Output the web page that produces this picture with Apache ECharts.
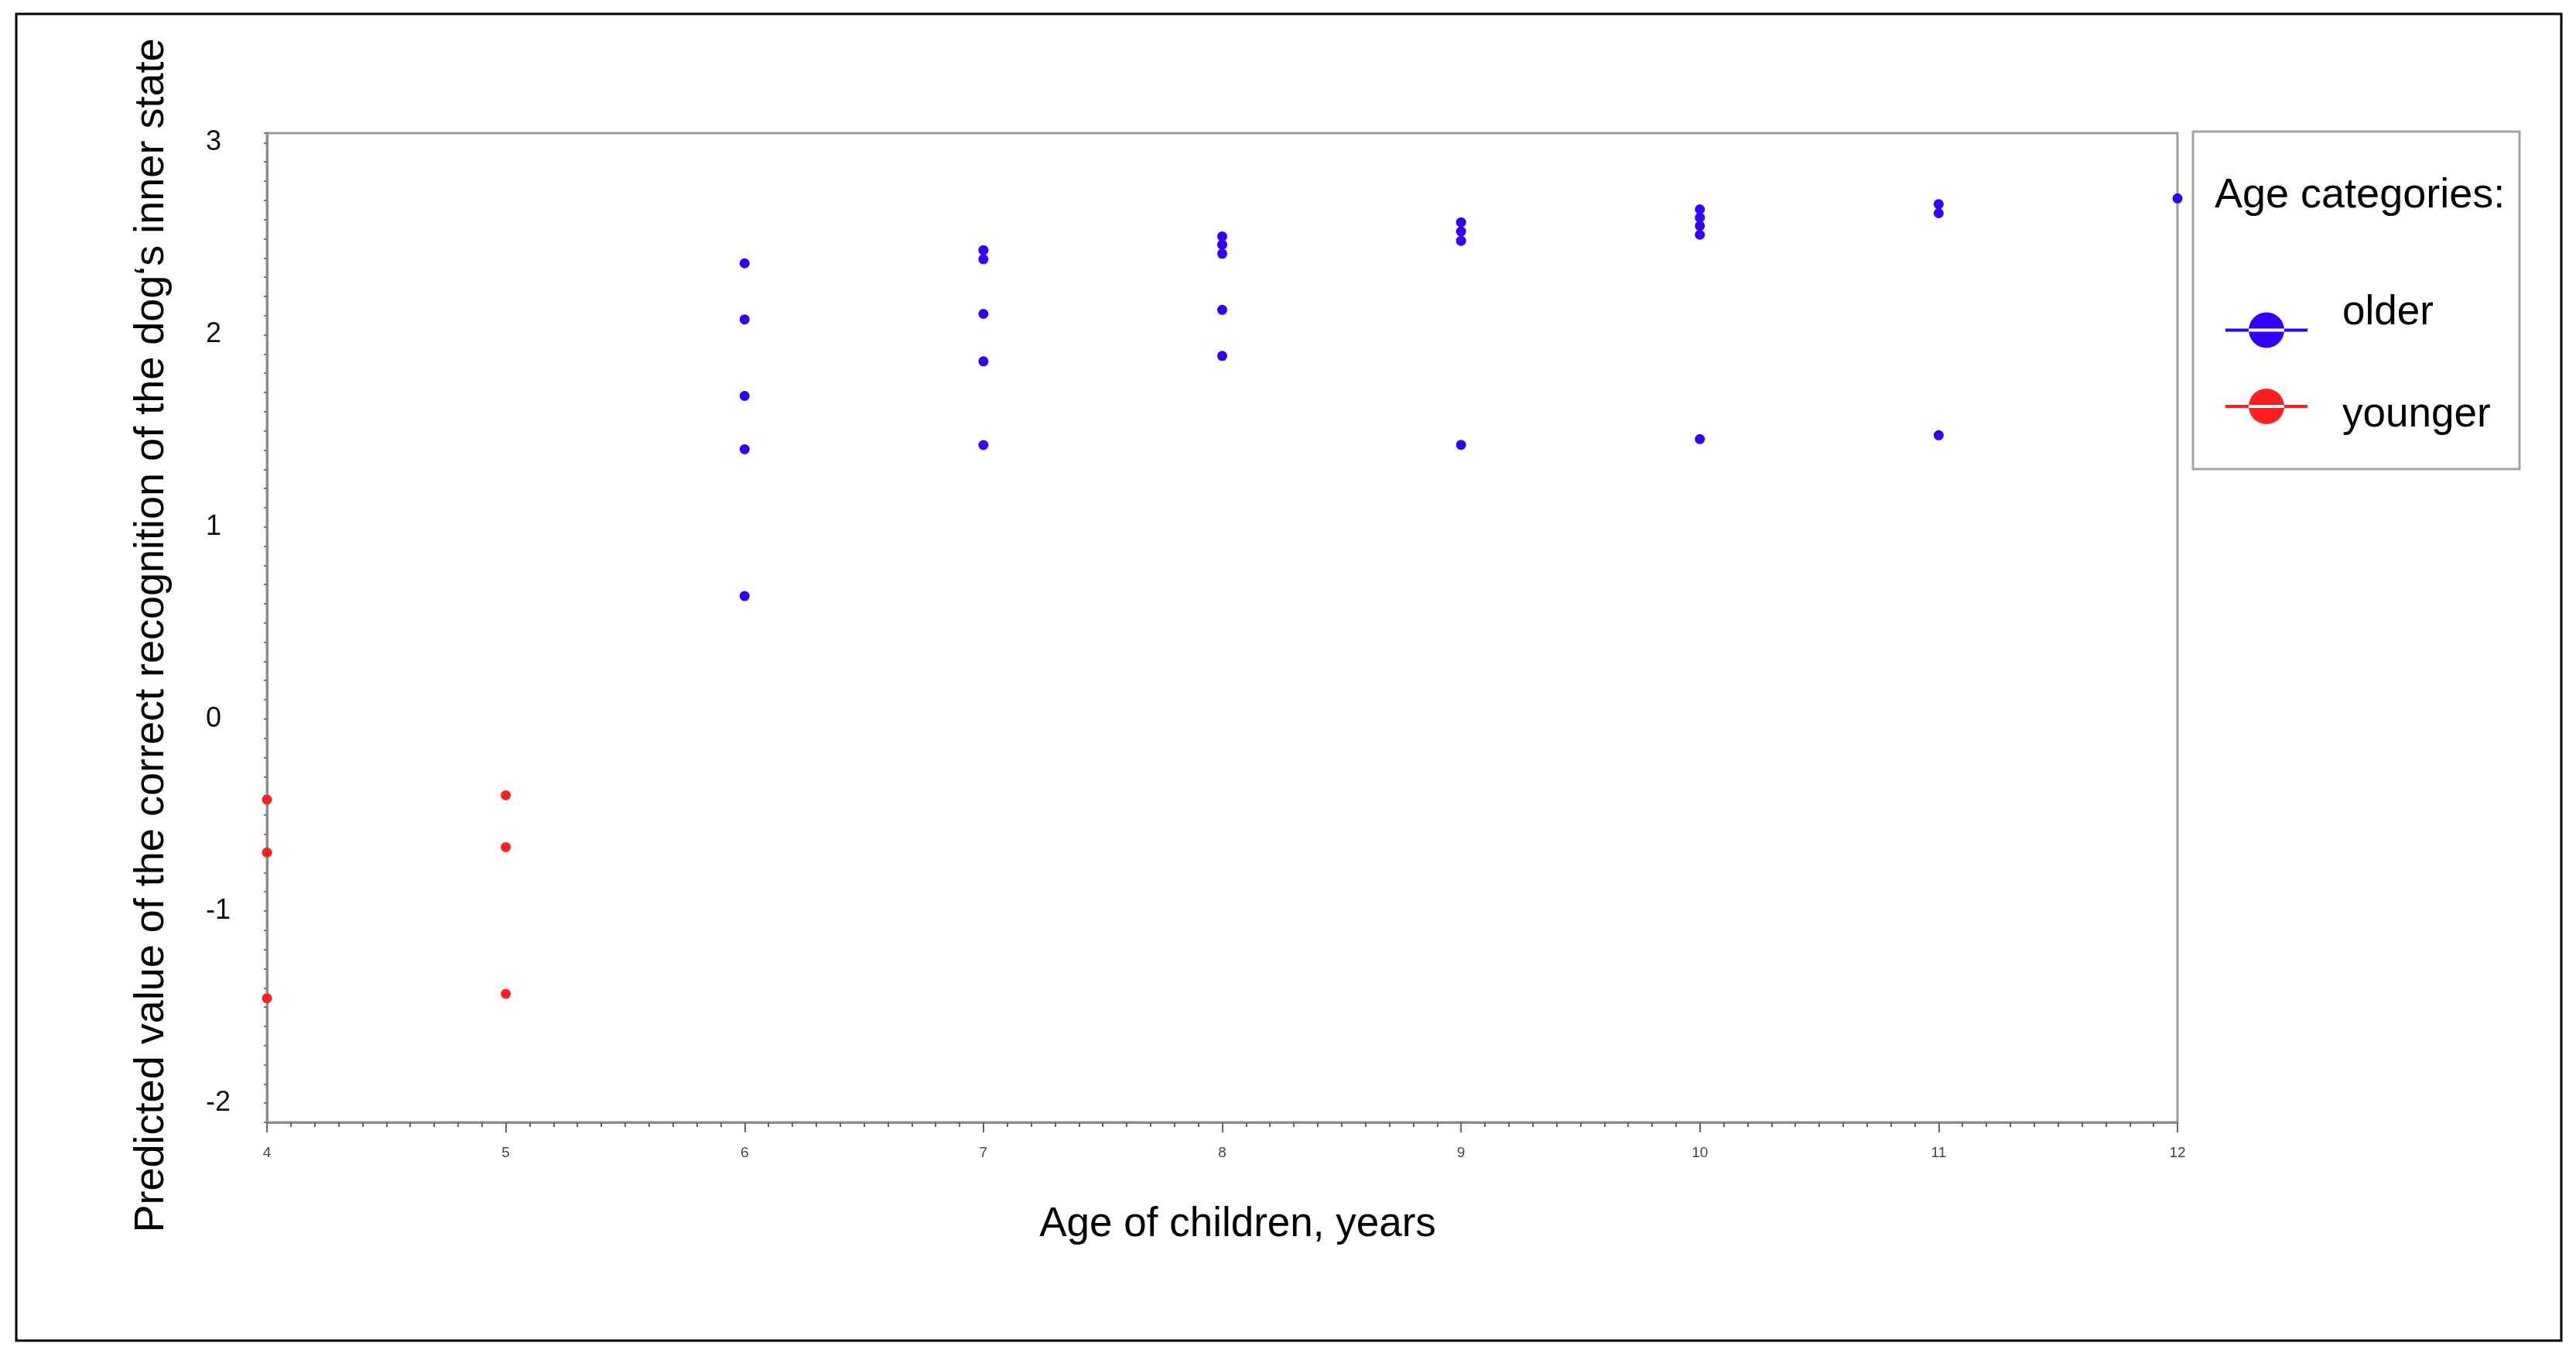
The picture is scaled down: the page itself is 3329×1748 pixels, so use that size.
<!DOCTYPE html>
<html>
<head>
<meta charset="utf-8">
<script src="https://cdn.jsdelivr.net/npm/echarts/dist/echarts.min.js"></script>
<style>
html,body{margin:0;padding:0;background:#fff;}
#c{width:3329px;height:1748px;}
</style>
</head>
<body>
<div id="c"></div>
<script>
// ---- data ----
const seriesNames = ['older', 'younger'];
const olderAges   = [6, 6, 6, 6, 6,  7, 7, 7, 7, 7,  8, 8, 8, 8, 8,  9, 9, 9, 9,  10, 10, 10, 10, 10,  11, 11, 11,  12];
const olderValues = [2.372, 2.080, 1.682, 1.404, 0.640,
                     2.441, 2.394, 2.109, 1.862, 1.426,
                     2.512, 2.469, 2.422, 2.130, 1.890,
                     2.586, 2.538, 2.489, 1.427,
                     2.653, 2.610, 2.567, 2.521, 1.457,
                     2.680, 2.633, 1.477,
                     2.710];
const youngerAges   = [4, 4, 4, 5, 5, 5];
const youngerValues = [-0.420, -0.695, -1.454, -0.397, -0.667, -1.431];
const xAxisTitle = 'Age of children, years';
const yAxisTitle = 'Predicted value of the correct recognition of the dog\u2018s inner state';
const legendTitle = 'Age categories:';

const FONT = "'Liberation Sans', Arial, sans-serif";
const COLOR_OLDER = '#3300f5';
const COLOR_YOUNGER = '#ff1f1f';
const legendIcon = 'path://M0 21h106v4H0z M30 23a23 23 0 1 0 46 0a23 23 0 1 0 -46 0z';

const olderData = olderAges.map((a, i) => [a, olderValues[i]]);
const youngerData = youngerAges.map((a, i) => [a, youngerValues[i]]);

const chart = echarts.init(document.getElementById('c'), null, {renderer: 'canvas'});
const option = {
  animation: false,
  backgroundColor: '#ffffff',
  grid: {
    left: 345, top: 172, width: 2469, height: 1278,
    show: true, borderColor: '#9a9a9a', borderWidth: 3, backgroundColor: 'transparent'
  },
  xAxis: {
    type: 'value', min: 4, max: 12, interval: 1,
    name: xAxisTitle, nameLocation: 'middle', nameGap: 106,
    nameTextStyle: {fontSize: 53, fontFamily: FONT, color: '#000', padding: [0, 0, 0, 40]},
    axisLine: {show: true, onZero: false, lineStyle: {color: '#8c8c8c', width: 3}},
    axisTick: {show: true, inside: false, length: 13, lineStyle: {color: '#666', width: 2}},
    minorTick: {show: true, splitNumber: 10, length: 6, lineStyle: {color: '#666', width: 2}},
    splitLine: {show: false},
    minorSplitLine: {show: false},
    axisLabel: {fontSize: 19, color: '#444', margin: 30, fontFamily: FONT}
  },
  yAxis: {
    type: 'value', min: -2.1, max: 3.05, interval: 0.1,
    name: yAxisTitle, nameLocation: 'middle', nameGap: 122,
    nameTextStyle: {fontSize: 54, fontFamily: FONT, color: '#000', padding: [0, 20, 0, 0]},
    axisLine: {show: true, onZero: false, lineStyle: {color: '#8c8c8c', width: 3}},
    axisTick: {show: true, inside: false, length: 4, lineStyle: {color: '#777', width: 2}},
    splitLine: {show: false},
    axisLabel: {
      fontSize: 36, color: '#111', fontFamily: FONT, align: 'left', margin: 79,
      formatter: function (v) {
        const r = Math.round(v);
        return Math.abs(v - r) < 1e-6 ? String(r) : '';
      }
    }
  },
  legend: [
    {
      data: [seriesNames[0]], left: 2876, top: 378, padding: 0, orient: 'vertical',
      itemWidth: 106, itemHeight: 46, icon: legendIcon, selectedMode: false,
      formatter: function (name) { return '{t|' + name + '}'; },
      textStyle: {fontSize: 53, fontFamily: FONT, color: '#000',
        rich: {t: {fontSize: 53, fontFamily: FONT, color: '#000', padding: [0, 0, 44, 40]}}}
    },
    {
      data: [seriesNames[1]], left: 2876, top: 502, padding: 0, orient: 'vertical',
      itemWidth: 106, itemHeight: 46, icon: legendIcon, selectedMode: false,
      formatter: function (name) { return '{t|' + name + '}'; },
      textStyle: {fontSize: 53, fontFamily: FONT, color: '#000',
        rich: {t: {fontSize: 53, fontFamily: FONT, color: '#000', padding: [22, 0, 0, 40]}}}
    }
  ],
  graphic: [
    {type: 'rect', silent: true, z: -1, shape: {x: 21, y: 18, width: 3289, height: 1714},
     style: {fill: 'none', stroke: '#000', lineWidth: 3}},
    {type: 'rect', silent: true, shape: {x: 2834, y: 170, width: 422, height: 436},
     style: {fill: 'none', stroke: '#a6a6a6', lineWidth: 3}},
    {type: 'text', silent: true, x: 2862, y: 253,
     style: {text: legendTitle, fontSize: 54, fontFamily: FONT, fill: '#000', align: 'left', verticalAlign: 'middle'}}
  ],
  series: [
    {name: seriesNames[0], type: 'scatter', data: olderData, symbol: 'circle', symbolSize: 13,
     itemStyle: {color: COLOR_OLDER, opacity: 1}, clip: false, z: 3},
    {name: seriesNames[1], type: 'scatter', data: youngerData, symbol: 'circle', symbolSize: 13,
     itemStyle: {color: COLOR_YOUNGER, opacity: 1}, clip: false, z: 3}
  ]
};
chart.setOption(option);
</script>
</body>
</html>
